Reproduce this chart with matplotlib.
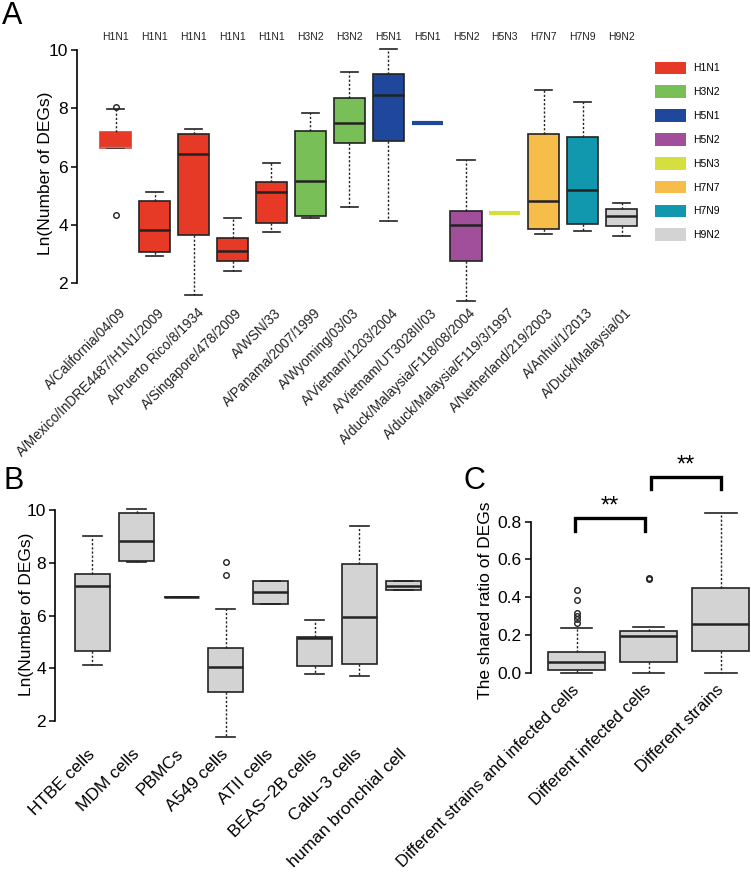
import matplotlib
matplotlib.use("Agg")
import matplotlib.pyplot as plt
from matplotlib.patches import Patch

plt.rcParams['font.family'] = ['Liberation Sans', 'DejaVu Sans']

# ---- Panel A : DEGs by virus strain ----
strains = ["A/California/04/09", "A/Mexico/InDRE4487/H1N1/2009", "A/Puerto Rico/8/1934",
           "A/Singapore/478/2009", "A/WSN/33", "A/Panama/2007/1999", "A/Wyoming/03/03",
           "A/Vietnam/1203/2004", "A/Vietnam/UT3028II/03", "A/duck/Malaysia/F118/08/2004",
           "A/duck/Malaysia/F119/3/1997", "A/Netherland/219/2003", "A/Anhui/1/2013",
           "A/Duck/Malaysia/01"]
subtypes = ["H1N1", "H1N1", "H1N1", "H1N1", "H1N1", "H3N2", "H3N2", "H5N1", "H5N1",
            "H5N2", "H5N3", "H7N7", "H7N9", "H9N2"]
a_q1 = [6.65, 3.06, 3.66, 2.77, 4.07, 4.30, 6.82, 6.88, 7.51, 2.77, 4.42, 3.86, 4.02, 3.96]
a_med = [6.67, 3.83, 6.42, 3.09, 5.13, 5.49, 7.49, 8.45, 7.51, 3.99, 4.42, 4.82, 5.18, 4.31]
a_q3 = [7.18, 4.80, 7.11, 3.54, 5.47, 7.22, 8.35, 9.18, 7.51, 4.49, 4.42, 7.13, 7.01, 4.53]
a_lo = [6.65, 2.94, 1.60, 2.40, 3.75, 4.23, 4.62, 4.13, 7.51, 1.37, 4.42, 3.70, 3.78, 3.63]
a_hi = [7.98, 5.13, 7.28, 4.23, 6.13, 7.85, 9.24, 10.02, 7.51, 6.23, 4.42, 8.63, 8.22, 4.74]
a_fliers = [[8.05, 4.34], [], [], [], [], [], [], [], [], [], [], [], [], []]

subtype_names = ["H1N1", "H3N2", "H5N1", "H5N2", "H5N3", "H7N7", "H7N9", "H9N2"]
subtype_colors = ["#e63a26", "#78bf57", "#1f479b", "#a24f9b", "#d5e040", "#f6bd4b", "#1298ae", "#d3d3d3"]

# ---- Panel B : DEGs by infected cell type ----
cells = ["HTBE cells", "MDM cells", "PBMCs", "A549 cells", "ATII cells",
         "BEAS\u22122B cells", "Calu\u22123 cells", "human bronchial cell"]
b_q1 = [4.66, 8.08, 6.70, 3.11, 6.45, 4.10, 4.16, 6.96]
b_med = [7.13, 8.81, 6.70, 4.04, 6.88, 5.16, 5.95, 7.13]
b_q3 = [7.59, 9.87, 6.70, 4.76, 7.31, 5.20, 7.94, 7.31]
b_lo = [4.14, 8.02, 6.70, 1.40, 6.45, 3.78, 3.72, 6.96]
b_hi = [9.03, 10.05, 6.70, 6.26, 7.31, 5.83, 9.38, 7.31]
b_fliers = [[], [], [], [8.04, 7.54], [], [], [], []]

# ---- Panel C : shared ratio of DEGs ----
groups = ["Different strains and infected cells", "Different infected cells", "Different strains"]
c_q1 = [0.014, 0.057, 0.115]
c_med = [0.055, 0.194, 0.260]
c_q3 = [0.108, 0.222, 0.449]
c_lo = [0.0, 0.0, 0.0]
c_hi = [0.238, 0.240, 0.848]
c_fliers = [[0.44, 0.385, 0.315, 0.30, 0.285, 0.265], [0.503, 0.496], []]
sig_pairs = [(0.98, 1.95, 0.75, 0.818), (2.03, 3.0, 0.975, 1.035)]
sig_text = ["**", "**"]

W, H = 751, 876
fig = plt.figure(figsize=(W / 100, H / 100), dpi=100)


def px_axes(l, t, r, b):
    return [l / W, 1 - b / H, (r - l) / W, (b - t) / H]


def make_stats(q1, med, q3, lo, hi, fl):
    return [dict(q1=a, med=m, q3=c, whislo=l, whishi=h, fliers=f)
            for a, m, c, l, h, f in zip(q1, med, q3, lo, hi, fl)]


def draw_box(ax, stats, width):
    return ax.bxp(stats, positions=range(1, len(stats) + 1), widths=width,
                  capwidths=width * 0.55, patch_artist=True,
                  boxprops=dict(linewidth=1.2, edgecolor='#222222'),
                  whiskerprops=dict(linewidth=1.0, linestyle=(0, (1.6, 1.4)), color='#222222'),
                  capprops=dict(linewidth=1.2, color='#222222'),
                  medianprops=dict(linewidth=1.8, color='#222222'),
                  flierprops=dict(marker='o', markersize=4, markerfacecolor='none',
                                  markeredgecolor='#222222', markeredgewidth=1.0))


def style_axes(ax, lo, hi, ticks):
    for s in ['top', 'right', 'bottom']:
        ax.spines[s].set_visible(False)
    ax.spines['left'].set_bounds(lo, hi)
    ax.spines['left'].set_linewidth(1.2)
    ax.set_yticks(ticks)
    ax.tick_params(axis='y', length=4, width=1.1, pad=2.5, labelsize=12.5)
    ax.tick_params(axis='x', length=0)


# Panel A
axA = fig.add_axes(px_axes(77, 38.3, 641, 312.2))
resA = draw_box(axA, make_stats(a_q1, a_med, a_q3, a_lo, a_hi, a_fliers), 0.8)
for i, box in enumerate(resA['boxes']):
    col = subtype_colors[subtype_names.index(subtypes[i])]
    box.set_facecolor(col)
    if a_q1[i] == a_q3[i]:
        box.set_edgecolor('none')
        resA['medians'][i].set_color(col)
        resA['medians'][i].set_linewidth(3)
        for art in resA['whiskers'][2 * i:2 * i + 2] + resA['caps'][2 * i:2 * i + 2]:
            art.set_visible(False)
resA['boxes'][0].set_edgecolor(subtype_colors[0])
resA['medians'][0].set_color('#888888')
resA['medians'][0].set_linewidth(1)
axA.set_xlim(0, 14.5)
axA.set_ylim(1.0, 10.4)
style_axes(axA, 2, 10, [2, 4, 6, 8, 10])
axA.set_xticks([])
for i, name in enumerate(strains):
    axA.text(i + 1.2, 1.05, name, rotation=45, ha='right', va='center',
             rotation_mode='anchor', fontsize=9.8, color='#222222')
for i, st in enumerate(subtypes):
    axA.text(i + 1, 10.45, st, ha='center', va='center', fontsize=7.5, color='#222222')
axA.set_ylabel("Ln(Number of DEGs)", fontsize=12.5)
axA.yaxis.set_label_coords(53 / W, 1 - 173 / H, transform=fig.transFigure)
handles = [Patch(facecolor=c, edgecolor='none', label=n) for n, c in zip(subtype_names, subtype_colors)]
fig.legend(handles=handles, loc='upper left', bbox_to_anchor=(655 / W, 1 - 61.5 / H),
           frameon=False, fontsize=7.5, handlelength=3.0, handleheight=1.5,
           labelspacing=1.07, handletextpad=0.65, borderpad=0, borderaxespad=0)

# Panel B
axB = fig.add_axes(px_axes(55, 499.5, 426, 746.1))
resB = draw_box(axB, make_stats(b_q1, b_med, b_q3, b_lo, b_hi, b_fliers), 0.78)
for box in resB['boxes']:
    box.set_facecolor('#d3d3d3')
axB.set_xlim(0.164, 8.5)
axB.set_ylim(1.05, 10.4)
style_axes(axB, 2, 10, [2, 4, 6, 8, 10])
axB.set_xticks(range(1, len(cells) + 1))
axB.set_xticklabels(cells, rotation=45, ha='right', va='center', rotation_mode='anchor', fontsize=12.5)
axB.tick_params(axis='x', pad=4)
axB.set_ylabel("Ln(Number of DEGs)", fontsize=12.5)
axB.yaxis.set_label_coords(34 / W, 1 - 614 / H, transform=fig.transFigure)

# Panel C
axC = fig.add_axes(px_axes(531, 506.2, 757, 679.1))
resC = draw_box(axC, make_stats(c_q1, c_med, c_q3, c_lo, c_hi, c_fliers), 0.79)
for box in resC['boxes']:
    box.set_facecolor('#d3d3d3')
axC.set_xlim(0.367, 3.5)
axC.set_ylim(-0.034, 0.882)
style_axes(axC, 0, 0.8, [0.0, 0.2, 0.4, 0.6, 0.8])
axC.set_yticklabels(["0.0", "0.2", "0.4", "0.6", "0.8"])
axC.set_xticks(range(1, len(groups) + 1))
axC.set_xticklabels(groups, rotation=45, ha='right', va='center', rotation_mode='anchor', fontsize=12)
axC.tick_params(axis='x', pad=6)
axC.set_ylabel("The shared ratio of DEGs", fontsize=12.5)
axC.yaxis.set_label_coords(493 / W, 1 - 600 / H, transform=fig.transFigure)
for (x0, x1, y0, y1), t in zip(sig_pairs, sig_text):
    axC.plot([x0, x0, x1, x1], [y0, y1, y1, y0], color='black', lw=2.4, clip_on=False,
             solid_joinstyle='miter')
    axC.text((x0 + x1) / 2, y1 + 0.005, t, ha='center', va='bottom', fontsize=17)

fig.text(2 / W, 1 - 1 / H, "A", fontsize=22, va='top', ha='left')
fig.text(4 / W, 1 - 466 / H, "B", fontsize=22, va='top', ha='left')
fig.text(464 / W, 1 - 466 / H, "C", fontsize=22, va='top', ha='left')

fig.savefig("out.png", dpi=100)
